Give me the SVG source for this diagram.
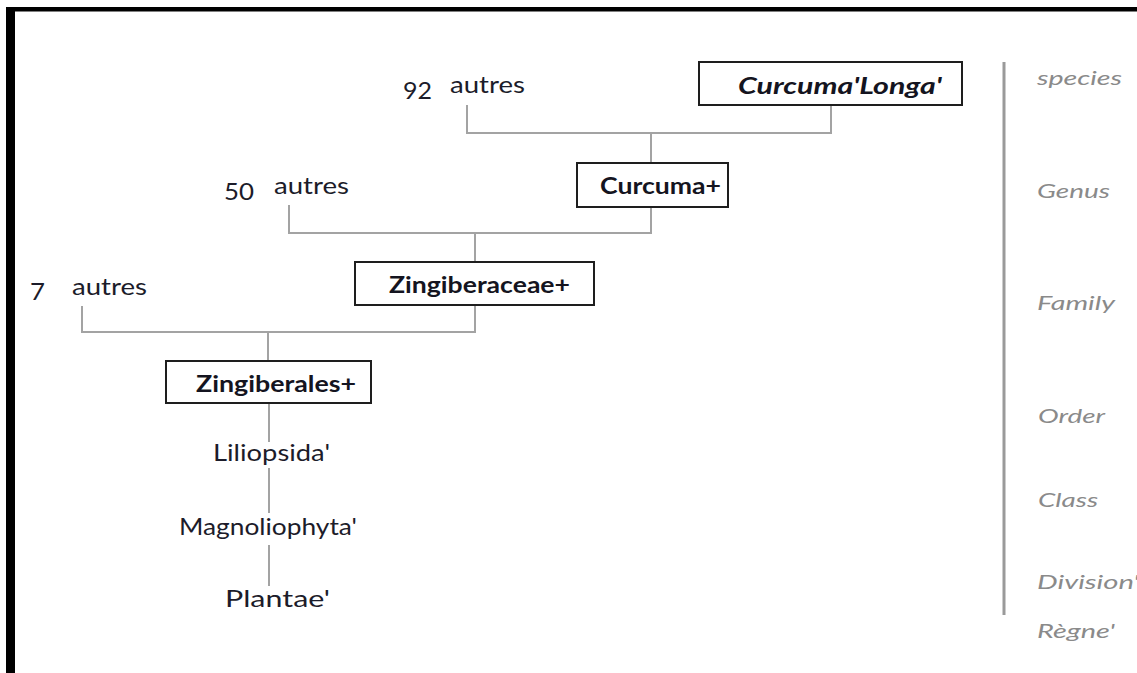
<svg xmlns="http://www.w3.org/2000/svg" width="1137" height="673" viewBox="0 0 1137 673">
<style>
.box{fill:#fff;stroke:#1e1e1e;stroke-width:2}
.con{fill:none;stroke:#a3a3a3;stroke-width:2}
.t{font-family:Lato,"Liberation Sans",sans-serif;font-size:23px;fill:#1c1c2a}
.b{font-family:Lato,"Liberation Sans",sans-serif;font-size:23px;font-weight:bold;fill:#141420}
.bi{font-style:italic}
.rank{font-family:Lato,"Liberation Sans",sans-serif;font-size:20px;font-style:italic;fill:#8a8a8a}
</style>
<rect x="0" y="0" width="1137" height="673" fill="#fff"/>
<g id="frame">
<rect x="6" y="7" width="1131" height="4.5" fill="#000"/>
<rect x="6" y="7" width="9" height="666" fill="#000"/>
</g>
<g id="connectors">
<path class="con" d="M467,105 V133 H831 V105"/>
<path class="con" d="M651,133 V163"/>
<path class="con" d="M289,205 V233 H651 V207"/>
<path class="con" d="M475,233 V262"/>
<path class="con" d="M82,306 V332 H475 V305"/>
<path class="con" d="M268,332 V361"/>
<path class="con" d="M269,403 V442"/>
<path class="con" d="M269,468 V513"/>
<path class="con" d="M269,545 V586"/>
<path d="M1004,62 V615" fill="none" stroke="#9a9a9a" stroke-width="3"/>
</g>
<g id="n-species">
<rect class="box" x="699" y="62" width="263" height="43"/>
<text class="b bi" x="738" y="94" textLength="204" lengthAdjust="spacingAndGlyphs">Curcuma'Longa'</text>
</g>
<g id="n-others92">
<text class="t" x="403" y="99" textLength="29" lengthAdjust="spacingAndGlyphs">92</text>
<text class="t" x="450" y="93" textLength="75" lengthAdjust="spacingAndGlyphs">autres</text>
</g>
<g id="n-genus">
<rect class="box" x="577" y="163" width="151" height="44"/>
<text class="b" x="600" y="194" textLength="121" lengthAdjust="spacingAndGlyphs">Curcuma+</text>
</g>
<g id="n-others50">
<text class="t" x="224" y="200" textLength="30" lengthAdjust="spacingAndGlyphs">50</text>
<text class="t" x="274" y="194" textLength="75" lengthAdjust="spacingAndGlyphs">autres</text>
</g>
<g id="n-family">
<rect class="box" x="355" y="262" width="239" height="43"/>
<text class="b" x="389" y="293" textLength="181" lengthAdjust="spacingAndGlyphs">Zingiberaceae+</text>
</g>
<g id="n-others7">
<text class="t" x="30" y="300" textLength="15" lengthAdjust="spacingAndGlyphs">7</text>
<text class="t" x="72" y="295" textLength="75" lengthAdjust="spacingAndGlyphs">autres</text>
</g>
<g id="n-order">
<rect class="box" x="166" y="361" width="205" height="42"/>
<text class="b" x="196" y="392" textLength="160" lengthAdjust="spacingAndGlyphs">Zingiberales+</text>
</g>
<g id="n-class">
<text class="t" x="213" y="461" textLength="117" lengthAdjust="spacingAndGlyphs">Liliopsida'</text>
</g>
<g id="n-division">
<text class="t" x="179" y="535" textLength="178" lengthAdjust="spacingAndGlyphs">Magnoliophyta'</text>
</g>
<g id="n-kingdom">
<text class="t" x="225" y="607" textLength="105" lengthAdjust="spacingAndGlyphs">Plantae'</text>
</g>
<g id="ranks">
<text class="rank" x="1037" y="85" textLength="85" lengthAdjust="spacingAndGlyphs">species</text>
<text class="rank" x="1037" y="198" textLength="73" lengthAdjust="spacingAndGlyphs">Genus</text>
<text class="rank" x="1037" y="310" textLength="78" lengthAdjust="spacingAndGlyphs">Family</text>
<text class="rank" x="1038" y="423" textLength="67" lengthAdjust="spacingAndGlyphs">Order</text>
<text class="rank" x="1038" y="507" textLength="60" lengthAdjust="spacingAndGlyphs">Class</text>
<text class="rank" x="1037" y="589" textLength="102" lengthAdjust="spacingAndGlyphs">Division'</text>
<text class="rank" x="1037" y="638" textLength="78" lengthAdjust="spacingAndGlyphs">Règne'</text>
</g>
</svg>
